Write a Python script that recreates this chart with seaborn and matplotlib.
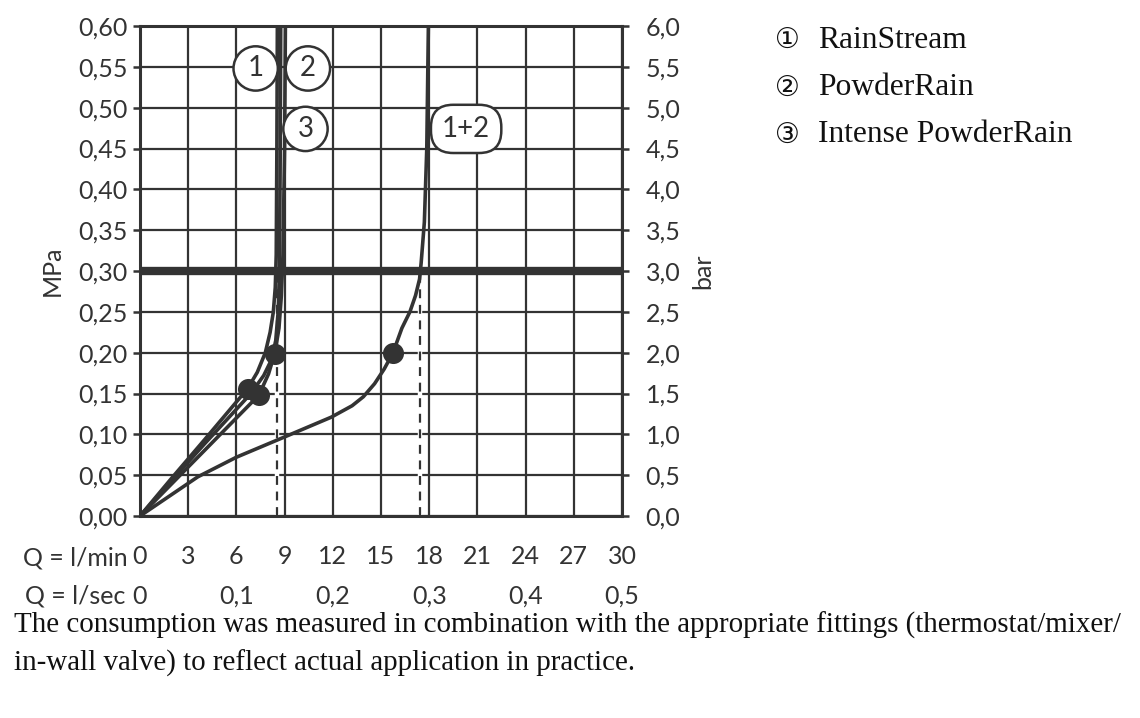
import numpy as np
import pandas as pd
import matplotlib
matplotlib.use("Agg")
import matplotlib.pyplot as plt
import seaborn as sns

sns.set_style("white")
plt.rcParams['font.family'] = ['Lato', 'DejaVu Sans']

INK = "#333333"

# --- datos (Q en l/min, p en MPa) ---
q_rainstream = [0, 2.0, 4.0, 6.7, 7.3, 7.8, 8.1, 8.3, 8.42, 8.48, 8.52, 8.55]
p_rainstream = [0, 0.047, 0.093, 0.156, 0.176, 0.200, 0.225, 0.250, 0.280, 0.320, 0.450, 0.600]

q_powderrain = [0, 2.0, 4.0, 7.4, 8.0, 8.4, 8.65, 8.8, 8.9, 9.0, 9.05]
p_powderrain = [0, 0.040, 0.080, 0.148, 0.174, 0.200, 0.230, 0.270, 0.320, 0.450, 0.600]

q_intense = [0, 2.0, 4.0, 6.9, 7.7, 8.2, 8.45, 8.6, 8.68, 8.73, 8.76]
p_intense = [0, 0.044, 0.088, 0.150, 0.172, 0.192, 0.215, 0.250, 0.300, 0.450, 0.600]

q_combo = [0, 3.6, 6.0, 8.9, 11.9, 13.2, 13.9, 14.6, 15.2, 15.75, 16.3, 16.8,
           17.15, 17.4, 17.5, 17.7, 17.85, 17.95]
p_combo = [0, 0.048, 0.072, 0.096, 0.121, 0.135, 0.146, 0.162, 0.180, 0.200, 0.230, 0.250,
           0.270, 0.290, 0.310, 0.360, 0.450, 0.600]

dot_q = [6.7, 7.4, 8.4, 15.75]
dot_p = [0.156, 0.148, 0.198, 0.200]

dash_q = [8.55, 17.45]          # caudal a 0,3 MPa
p_ref = 0.30

lmin_ticks = [0, 3, 6, 9, 12, 15, 18, 21, 24, 27, 30]
lsec_ticks = [0, 0.1, 0.2, 0.3, 0.4, 0.5]
lsec_labels = ["0", "0,1", "0,2", "0,3", "0,4", "0,5"]
mpa_ticks = [0, 0.05, 0.10, 0.15, 0.20, 0.25, 0.30, 0.35, 0.40, 0.45, 0.50, 0.55, 0.60]
mpa_labels = ["0,00", "0,05", "0,10", "0,15", "0,20", "0,25", "0,30",
              "0,35", "0,40", "0,45", "0,50", "0,55", "0,60"]
bar_ticks = [0, 0.5, 1, 1.5, 2, 2.5, 3, 3.5, 4, 4.5, 5, 5.5, 6]
bar_labels = ["0,0", "0,5", "1,0", "1,5", "2,0", "2,5", "3,0",
              "3,5", "4,0", "4,5", "5,0", "5,5", "6,0"]

legend_names = ["RainStream", "PowderRain", "Intense PowderRain"]
legend_marks = ["\u2460", "\u2461", "\u2462"]
curve_labels = ["1", "2", "3", "1+2"]
curve_label_q = [7.2, 10.45, 10.3, 20.3]
curve_label_p = [0.548, 0.548, 0.474, 0.474]

caption = ["The consumption was measured in combination with the appropriate fittings (thermostat/mixer/",
           "in-wall valve) to reflect actual application in practice."]

TICK_FS = 18

fig = plt.figure(figsize=(11.4, 7.18), dpi=100)
ax = fig.add_axes([0.1228, 0.2813, 0.4228, 0.6825])

ax.set_xlim(0, 30)
ax.set_ylim(0, 0.6)
ax.set_xticks(lmin_ticks)
ax.set_xticklabels([str(t) for t in lmin_ticks])
ax.set_yticks(mpa_ticks)
ax.set_yticklabels(mpa_labels)
ax.grid(True, color=INK, lw=1.6)
ax.set_axisbelow(True)
for s in ax.spines.values():
    s.set_color(INK)
    s.set_linewidth(2.2)
ax.tick_params(axis='both', direction='out', length=5, width=1.8, color=INK,
               labelsize=TICK_FS, labelcolor=INK)
ax.tick_params(axis='x', pad=16)
ax.tick_params(axis='y', pad=4)

# linea de referencia 0,3 MPa y lineas de trazos
ax.axhline(p_ref, color=INK, lw=6, zorder=3)
for q in dash_q:
    ax.plot([q, q], [0, p_ref], color='white', lw=3.2, zorder=2.5)
    ax.plot([q, q], [0, p_ref], color=INK, lw=1.6, ls=(0, (4, 3)), zorder=2.6)

curves = [(q_rainstream, p_rainstream), (q_powderrain, p_powderrain),
          (q_intense, p_intense), (q_combo, p_combo)]
for qv, pv in curves:
    df = pd.DataFrame({'q': qv, 'p': pv})
    sns.lineplot(data=df, x='q', y='p', ax=ax, sort=False, estimator=None,
                 color=INK, lw=2.6, zorder=4)

sns.scatterplot(x=dot_q, y=dot_p, ax=ax, s=230, color=INK, edgecolor=INK,
                linewidth=0, zorder=5)

for txt, qx, py in zip(curve_labels, curve_label_q, curve_label_p):
    if txt == "1+2":
        box = dict(boxstyle='round,pad=0.4,rounding_size=0.8', fc='white', ec=INK, lw=1.8)
    else:
        box = dict(boxstyle='circle,pad=0.33', fc='white', ec=INK, lw=1.8)
    ax.text(qx, py, txt, ha='center', va='center', fontsize=20, color=INK,
            bbox=box, zorder=6)

ax.set_xlabel("")
ax.set_ylabel("MPa", fontsize=TICK_FS, color=INK, labelpad=10)

# eje derecho en bar
ax2 = ax.twinx()
ax2.set_ylim(0, 6)
ax2.set_yticks(bar_ticks)
ax2.set_yticklabels(bar_labels)
ax2.grid(False)
for s in ax2.spines.values():
    s.set_visible(False)
ax2.tick_params(axis='y', direction='out', length=5, width=1.8, color=INK,
                labelsize=TICK_FS, labelcolor=INK, pad=12)
ax2.set_ylabel("bar", fontsize=TICK_FS, color=INK, labelpad=8)

# segunda fila del eje x en l/sec
sec = ax.secondary_xaxis(-0.14, functions=(lambda q: q / 60.0, lambda s: s * 60.0))
sec.set_xticks(lsec_ticks)
sec.set_xticklabels(lsec_labels)
sec.spines['bottom'].set_visible(False)
sec.tick_params(length=0, pad=0, labelsize=TICK_FS, labelcolor=INK)

ax.text(-0.025, -0.062, "Q = l/min", transform=ax.transAxes, ha='right', va='top',
        fontsize=TICK_FS, color=INK)
ax.text(-0.03, -0.14, "Q = l/sec", transform=ax.transAxes, ha='right', va='top',
        fontsize=TICK_FS, color=INK)

# leyenda
serif = ['Liberation Serif', 'DejaVu Serif']
for i, (mk, name) in enumerate(zip(legend_marks, legend_names)):
    yy = 1 - (40 + i * 47.5) / 718
    fig.text(775 / 1140, yy, mk, ha='left', va='center', fontsize=20,
             family=['DejaVu Sans'], color='#111111')
    fig.text(818 / 1140, yy, name, ha='left', va='center', fontsize=22.7,
             family=serif, color='#111111')

for i, line in enumerate(caption):
    fig.text(14 / 1140, 1 - (625 + i * 38) / 718, line, ha='left', va='center',
             fontsize=20.9, family=serif, color='#111111')

fig.savefig("out.png", dpi=100)
